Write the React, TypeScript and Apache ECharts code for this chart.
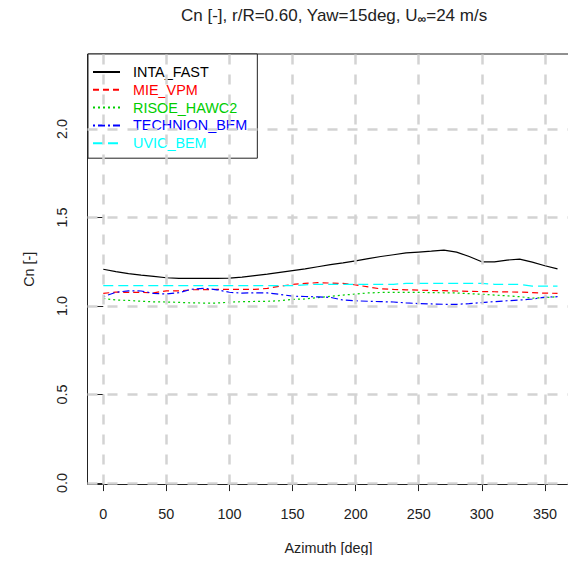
import React, { useEffect, useRef } from "react";
import * as echarts from "echarts";

const azimuth = [0, 10, 20, 30, 40, 50, 60, 70, 80, 90, 100, 110, 120, 130, 140, 150, 160, 170, 180, 190, 200, 210, 220, 230, 240, 250, 260, 270, 280, 290, 300, 310, 320, 330, 340, 350, 360];

const intaFast = [1.208, 1.195, 1.183, 1.175, 1.168, 1.16, 1.157, 1.157, 1.157, 1.157, 1.158, 1.164, 1.172, 1.18, 1.19, 1.2, 1.21, 1.222, 1.234, 1.244, 1.255, 1.268, 1.28, 1.29, 1.3, 1.305, 1.31, 1.316, 1.305, 1.28, 1.25, 1.25, 1.26, 1.265, 1.248, 1.228, 1.21];
const mieVpm = [1.072, 1.079, 1.077, 1.077, 1.075, 1.086, 1.086, 1.092, 1.093, 1.094, 1.094, 1.094, 1.094, 1.1, 1.112, 1.122, 1.128, 1.132, 1.13, 1.128, 1.12, 1.108, 1.097, 1.094, 1.092, 1.09, 1.088, 1.087, 1.085, 1.083, 1.082, 1.081, 1.08, 1.079, 1.076, 1.073, 1.072];
const risoeHawc2 = [1.043, 1.034, 1.032, 1.027, 1.024, 1.023, 1.021, 1.018, 1.017, 1.017, 1.022, 1.025, 1.026, 1.027, 1.03, 1.038, 1.04, 1.048, 1.055, 1.062, 1.068, 1.074, 1.077, 1.077, 1.077, 1.077, 1.076, 1.075, 1.074, 1.07, 1.067, 1.062, 1.058, 1.053, 1.045, 1.048, 1.053];
const technionBem = [1.053, 1.078, 1.086, 1.085, 1.072, 1.068, 1.076, 1.095, 1.1, 1.092, 1.078, 1.073, 1.075, 1.074, 1.066, 1.056, 1.054, 1.052, 1.049, 1.034, 1.03, 1.027, 1.025, 1.023, 1.018, 1.014, 1.012, 1.01, 1.01, 1.014, 1.02, 1.025, 1.03, 1.034, 1.04, 1.05, 1.053];
const uvicBem = [1.115, 1.115, 1.115, 1.115, 1.115, 1.115, 1.115, 1.115, 1.115, 1.115, 1.115, 1.115, 1.115, 1.115, 1.115, 1.115, 1.12, 1.123, 1.123, 1.123, 1.123, 1.123, 1.123, 1.123, 1.128, 1.128, 1.128, 1.128, 1.128, 1.128, 1.128, 1.123, 1.123, 1.123, 1.113, 1.113, 1.113];

const seriesNames = ["INTA_FAST", "MIE_VPM", "RISOE_HAWC2", "TECHNION_BEM", "UVIC_BEM"];
const seriesValues = [intaFast, mieVpm, risoeHawc2, technionBem, uvicBem];
const seriesColors = ["#000000", "#FF0000", "#00CD00", "#0000FF", "#00FFFF"];
const seriesDashes: (number[] | "solid")[] = ["solid", [6, 4], [2, 3], [2, 3, 7, 3], [10, 5]];

const xTicks = [0, 50, 100, 150, 200, 250, 300, 350];
const yTicks = [0, 0.5, 1.0, 1.5, 2.0];

const FONT = "'Liberation Sans', Arial, sans-serif";

export default function App() {
  const ref = useRef<HTMLDivElement>(null);
  useEffect(() => {
    if (!ref.current) return;
    const chart = echarts.init(ref.current, null, { renderer: "svg" });
    const dataSeries = seriesNames.map((name, i) => ({
      name,
      type: "line",
      data: azimuth.map((a, j) => [a, seriesValues[i][j]]),
      showSymbol: false,
      symbol: "none",
      z: 3,
      lineStyle: { color: seriesColors[i], width: 1.2, type: seriesDashes[i] },
      itemStyle: { color: seriesColors[i] },
    }));
    const gridSeries = {
      name: "grid",
      type: "line",
      data: [],
      z: 1,
      silent: true,
      markLine: {
        silent: true,
        symbol: ["none", "none"],
        label: { show: false },
        lineStyle: { color: "#D3D3D3", width: 2.5, type: [10, 10] },
        emphasis: { disabled: true },
        data: [
          ...xTicks.map((x) => ({ xAxis: x })),
          ...yTicks.map((y) => ({ yAxis: y })),
        ],
      },
    };
    chart.setOption({
      animation: false,
      backgroundColor: "#ffffff",
      textStyle: { fontFamily: FONT },
      title: {
        text: "{a|Cn [-], r/R=0.60, Yaw=15deg, U}{s|∞}{a|=24 m/s}",
        left: 329,
        top: 0,
        textAlign: "center",
        textStyle: {
          rich: {
            a: { fontFamily: FONT, fontSize: 17, color: "#222", fontWeight: "normal" },
            s: { fontFamily: FONT, fontSize: 12, color: "#222", padding: [8, 0, 0, 0] },
          },
        },
      },
      legend: {
        data: seriesNames.map((n, i) => ({ name: n, textStyle: { color: seriesColors[i] } })),
        orient: "vertical",
        left: 88,
        top: 54,
        itemWidth: 27,
        itemHeight: 14,
        itemGap: 3.8,
        padding: [11, 10, 8, 4],
        backgroundColor: "#ffffff",
        borderColor: "#222",
        borderWidth: 1,
        borderRadius: 0,
        selectedMode: false,
        itemStyle: { opacity: 0 },
        textStyle: { fontFamily: FONT, fontSize: 14.4, padding: [0, 0, 0, 8] },
      },
      grid: {
        left: 87.5,
        right: 6.5,
        top: 54,
        bottom: 78.5,
        show: true,
        borderColor: "#222",
        borderWidth: 1,
        backgroundColor: "transparent",
      },
      xAxis: {
        type: "value",
        min: -12.5,
        max: 369.5,
        splitNumber: 8,
        name: "Azimuth [deg]",
        nameLocation: "middle",
        nameGap: 56,
        nameTextStyle: { fontFamily: FONT, fontSize: 14.4, color: "#222" },
        axisLine: { show: false },
        axisTick: { show: true, length: 8, lineStyle: { color: "#222" }, customValues: xTicks },
        axisLabel: { fontFamily: FONT, fontSize: 14.4, color: "#222", margin: 22, customValues: xTicks },
        splitLine: { show: false },
      },
      yAxis: {
        type: "value",
        min: -0.008,
        max: 2.424,
        splitNumber: 5,
        name: "Cn [-]",
        nameLocation: "middle",
        nameGap: 52,
        nameRotate: 90,
        nameTextStyle: { fontFamily: FONT, fontSize: 14.4, color: "#222" },
        axisLine: { show: false },
        axisTick: { show: true, length: 8, lineStyle: { color: "#222" }, customValues: yTicks },
        axisLabel: {
          fontFamily: FONT,
          fontSize: 14.4,
          color: "#222",
          rotate: 90,
          margin: 19,
          customValues: yTicks,
          formatter: (v: number) => v.toFixed(1),
        },
        splitLine: { show: false },
      },
      series: [gridSeries, ...dataSeries],
    });
    return () => chart.dispose();
  }, []);
  return <div ref={ref} style={{ width: 576, height: 563, margin: -8 }} />;
}
